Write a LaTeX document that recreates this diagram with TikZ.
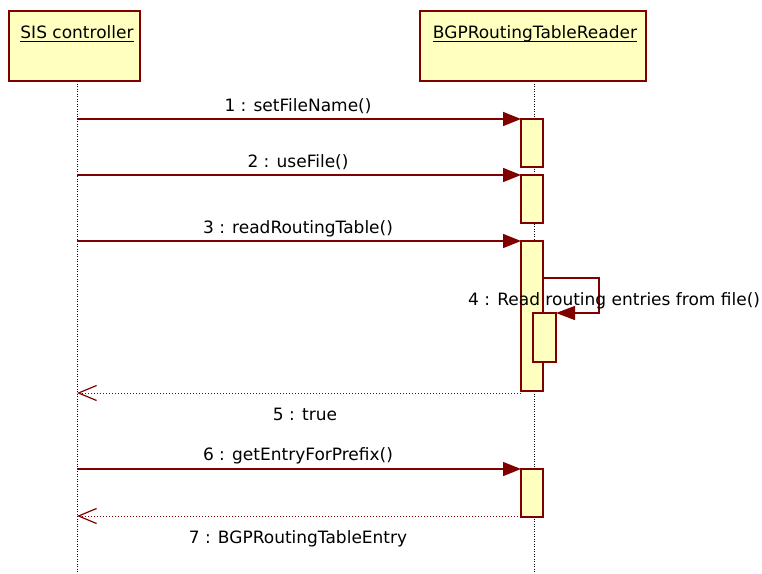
\documentclass[tikz,border=0pt]{standalone}
\usepackage{fontspec}
\setmainfont{DejaVu Sans}
\usetikzlibrary{arrows.meta}
\definecolor{umlred}{RGB}{128,0,0}
\definecolor{umlfill}{RGB}{255,255,192}
\tikzset{
  objbox/.style={draw=umlred, fill=umlfill, line width=1.6pt},
  actbox/.style={draw=umlred, fill=umlfill, line width=1.5pt},
  lifeline/.style={draw=black, line width=0.9pt, dash pattern=on 1pt off 1.5pt},
  msg/.style={draw=umlred, line width=1.5pt, -{Triangle[length=18pt,width=14pt]}},
  selfmsg/.style={draw=umlred, line width=1.3pt, -{Triangle[length=19pt,width=14pt]}},
  retmsg/.style={draw=umlred, line width=1pt, dash pattern=on 1pt off 2pt, -{Straight Barb[length=18pt,width=15pt,line width=1.2pt]}},
  lbl/.style={inner sep=0pt, anchor=base, font=\fontsize{17}{20}\selectfont},
}
\begin{document}
\begin{tikzpicture}[x=1pt,y=-1pt]
\useasboundingbox (0,0) rectangle (762,573);
% lifelines
\coordinate (sisTop) at (77,81);
\coordinate (sisBot) at (77,573);
\coordinate (bgpTop) at (534,81);
\coordinate (bgpBot) at (534,573);
\draw[lifeline] (sisTop) -- (sisBot);
\draw[lifeline] (bgpTop) -- (bgpBot);
% object boxes
\draw[objbox] (9,11) rectangle (140,81);
\draw[objbox] (420,11) rectangle (646,81);
\node[lbl] (sisT) at (77,38.5) {SIS controller};
\node[lbl] (bgpT) at (535,38.5) {BGPRoutingTableReader};
\draw[line width=1pt] ([yshift=-2.5pt]sisT.base west) -- ([yshift=-2.5pt]sisT.base east);
\draw[line width=1pt] ([yshift=-2.5pt]bgpT.base west) -- ([yshift=-2.5pt]bgpT.base east);
% activations
\draw[actbox] (521,119) rectangle (543,167);
\draw[actbox] (521,175) rectangle (543,223);
\draw[actbox] (521,241) rectangle (543,391);
\draw[actbox] (533,313) rectangle (556,362);
\draw[actbox] (521,469) rectangle (543,517);
% coordinates for messages
\coordinate (s1) at (77,119);  \coordinate (e1) at (521,119);
\coordinate (s2) at (77,175);  \coordinate (e2) at (521,175);
\coordinate (s3) at (77,241);  \coordinate (e3) at (521,241);
\coordinate (l4a) at (543,278); \coordinate (l4b) at (599,278);
\coordinate (l4c) at (599,313); \coordinate (l4d) at (556,313);
\coordinate (s5) at (521,393); \coordinate (e5) at (77,393);
\coordinate (s6) at (77,469);  \coordinate (e6) at (521,469);
\coordinate (s7) at (521,516); \coordinate (e7) at (77,516);
% messages
\draw[msg] (s1) -- (e1);
\draw[msg] (s2) -- (e2);
\draw[msg] (s3) -- (e3);
\draw[selfmsg] (l4a) -- (l4b) -- (l4c) -- (l4d);
\draw[retmsg] (s5) -- (e5);
\draw[msg] (s6) -- (e6);
\draw[retmsg] (s7) -- (e7);
% labels
\node[lbl] (m1) at (298,111) {1 : setFileName()};
\node[lbl] (m2) at (298,167) {2 : useFile()};
\node[lbl] (m3) at (298,233) {3 : readRoutingTable()};
\node[lbl, anchor=base west] (m4) at (468,305) {4 : Read routing entries from file()};
\node[lbl] (m5) at (305,420) {5 : true};
\node[lbl] (m6) at (298,460) {6 : getEntryForPrefix()};
\node[lbl] (m7) at (298,543) {7 : BGPRoutingTableEntry};
\end{tikzpicture}
\end{document}
